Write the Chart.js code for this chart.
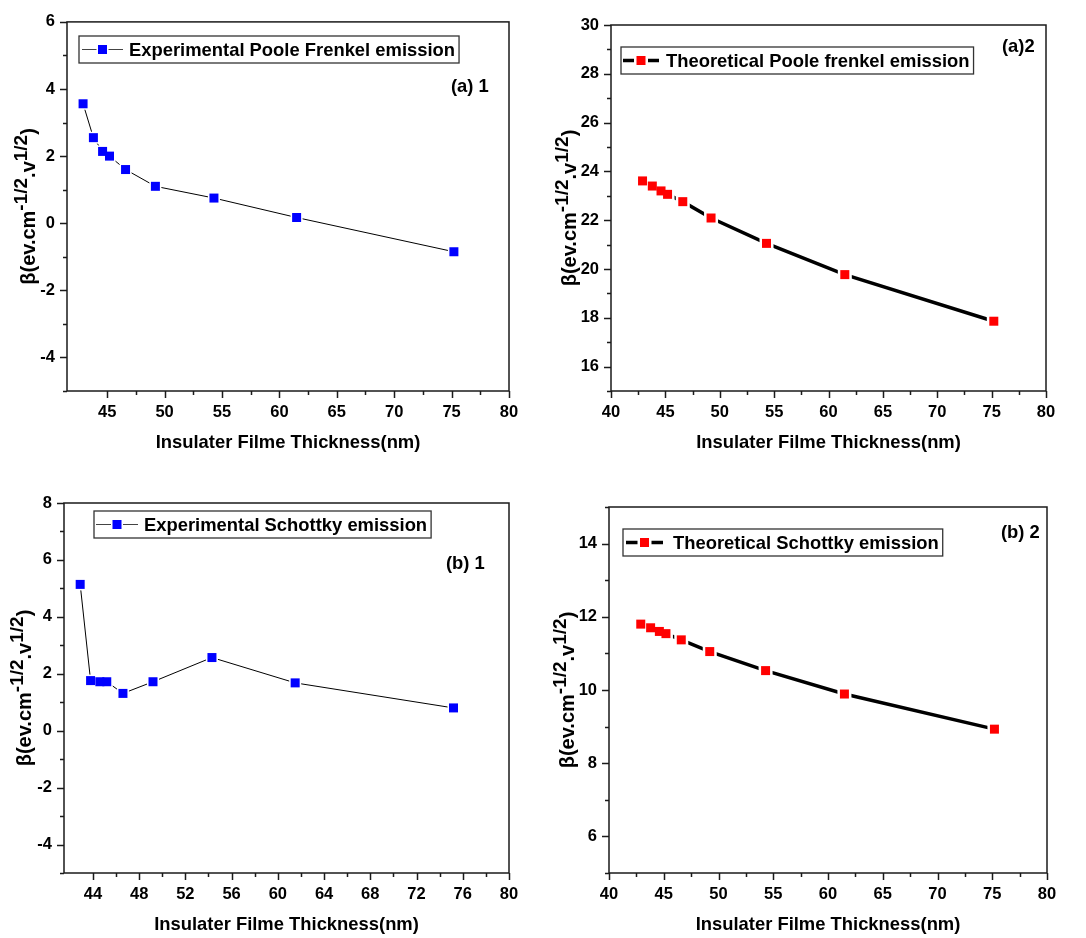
<!DOCTYPE html>
<html>
<head>
<meta charset="utf-8">
<script src="https://cdn.jsdelivr.net/npm/chart.js@4.4.1/dist/chart.umd.min.js"></script>
<style>
  body { margin: 0; background: #fff; }
  #wrap { position: relative; width: 1086px; height: 938px; }
  canvas { position: absolute; }
</style>
</head>
<body>
<div id="wrap">
  <canvas id="a1" width="543" height="460" style="left:0;top:0"></canvas>
  <canvas id="a2" width="543" height="460" style="left:543px;top:0"></canvas>
  <canvas id="b1" width="543" height="478" style="left:0;top:460px"></canvas>
  <canvas id="b2" width="543" height="478" style="left:543px;top:460px"></canvas>
</div>
<script>
// film thickness (nm), same for all four panels
const thickness = [42.9, 43.8, 44.6, 45.2, 46.6, 49.2, 54.3, 61.5, 75.2];

const expPooleFrenkel = [3.56, 2.55, 2.14, 2.0, 1.6, 1.1, 0.75, 0.17, -0.85];
const theoPooleFrenkel = [23.61, 23.40, 23.20, 23.06, 22.76, 22.09, 21.05, 19.77, 17.86];
const expSchottky = [5.14, 1.76, 1.72, 1.72, 1.31, 1.72, 2.57, 1.68, 0.80];
const theoSchottky = [11.80, 11.70, 11.60, 11.54, 11.37, 11.05, 10.53, 9.89, 8.93];

// tick labels
const xLabels5 = [40, 45, 50, 55, 60, 65, 70, 75, 80];
const xLabels4 = [44, 48, 52, 56, 60, 64, 68, 72, 76, 80];
const yLabelsA1 = [-4, -2, 0, 2, 4, 6];
const yLabelsA2 = [16, 18, 20, 22, 24, 26, 28, 30];
const yLabelsB1 = [-4, -2, 0, 2, 4, 6, 8];
const yLabelsB2 = [6, 8, 10, 12, 14];

const FONT = '"Liberation Sans", Arial, sans-serif';
Chart.defaults.font.family = FONT;
Chart.defaults.font.weight = 'bold';
Chart.defaults.color = '#000';

function hasLabel(list, v) {
  return list.some(l => Math.abs(l - v) < 1e-6);
}
function onStep(v, step) {
  return Math.abs(v / step - Math.round(v / step)) < 1e-6;
}

// origin-style frame, ticks, titles, legend and panel tag
const originFrame = {
  id: 'originFrame',
  afterDraw(chart, args, o) {
    const { ctx, chartArea: a, scales: { x, y } } = chart;
    ctx.save();
    ctx.strokeStyle = '#1a1a1a';
    ctx.lineWidth = 1.5;
    ctx.beginPath();
    x.ticks.forEach(t => {
      if (!onStep(t.value, o.xStep)) return;
      const px = Math.round(x.getPixelForValue(t.value)) + 0.5;
      const len = t.label ? 7 : 4;
      ctx.moveTo(px, a.bottom);
      ctx.lineTo(px, a.bottom + len);
    });
    y.ticks.forEach(t => {
      if (!onStep(t.value, o.yStep)) return;
      const py = Math.round(y.getPixelForValue(t.value)) + 0.5;
      const len = t.label ? 7 : 4;
      ctx.moveTo(a.left, py);
      ctx.lineTo(a.left - len, py);
    });
    ctx.stroke();
    ctx.strokeRect(a.left, a.top, a.right - a.left, a.bottom - a.top);

    ctx.fillStyle = '#000';
    // x title
    ctx.font = 'bold 18.4px ' + FONT;
    ctx.textAlign = 'center';
    ctx.textBaseline = 'alphabetic';
    ctx.fillText('Insulater Filme Thickness(nm)', (a.left + a.right) / 2, o.xTitleY);

    // y title with superscripts
    const parts = [
      ['β(ev.cm', false], ['-1/2', true], ['.v', false], ['1/2', true], [')', false]
    ];
    const mainF = 'bold 20px ' + FONT, supF = 'bold 19px ' + FONT;
    let total = 0;
    parts.forEach(p => { ctx.font = p[1] ? supF : mainF; total += ctx.measureText(p[0]).width; });
    ctx.save();
    ctx.translate(o.yTitleX, (a.top + a.bottom) / 2);
    ctx.rotate(-Math.PI / 2);
    ctx.textAlign = 'left';
    let cx = -total / 2;
    parts.forEach(p => {
      ctx.font = p[1] ? supF : mainF;
      ctx.fillText(p[0], cx, p[1] ? -8 : 0);
      cx += ctx.measureText(p[0]).width;
    });
    ctx.restore();

    // panel tag
    ctx.font = 'bold 18.4px ' + FONT;
    ctx.textAlign = 'left';
    ctx.textBaseline = 'middle';
    ctx.fillText(o.tag, o.tagX, o.tagY);

    // legend
    const lg = o.legend;
    const ds = chart.data.datasets;
    const label = ds[0].label;
    const tw = ctx.measureText(label).width;
    const boxW = lg.textX + tw + 4 - lg.left;
    ctx.lineWidth = 1.3;
    ctx.strokeStyle = '#333';
    ctx.strokeRect(lg.left, lg.top, boxW, lg.height);
    const cy = lg.top + lg.height / 2;
    const mx = (lg.x0 + lg.x1) / 2;
    ctx.strokeStyle = o.legendLineColor;
    ctx.lineWidth = ds[2].borderWidth;
    ctx.beginPath();
    ctx.moveTo(lg.x0, cy);
    ctx.lineTo(mx - 4.5 - o.gap, cy);
    ctx.moveTo(mx + 4.5 + o.gap, cy);
    ctx.lineTo(lg.x1, cy);
    ctx.stroke();
    ctx.fillStyle = ds[0].pointBackgroundColor;
    ctx.fillRect(mx - 4.5, cy - 4.5, 9, 9);
    ctx.fillStyle = '#000';
    ctx.fillText(label, lg.textX, cy + 1);
    ctx.restore();
  }
};

function makePanel(id, cfg) {
  const canvas = document.getElementById(id);
  const W = canvas.width, H = canvas.height;
  const a = cfg.area;
  const pts = thickness.map((x, i) => ({ x: x, y: cfg.values[i] }));
  const markR = 9 / (2 * Math.SQRT1_2);
  const haloR = (9 + 2 * cfg.gap) / (2 * Math.SQRT1_2);
  return new Chart(canvas.getContext('2d'), {
    type: 'line',
    data: {
      datasets: [
        {
          label: cfg.label, data: pts, showLine: false, pointStyle: 'rect',
          pointRadius: markR, pointBackgroundColor: cfg.color, pointBorderWidth: 0, order: 0
        },
        {
          data: pts, showLine: false, pointStyle: 'rect',
          pointRadius: haloR, pointBackgroundColor: '#fff', pointBorderWidth: 0, order: 1
        },
        {
          data: pts, borderColor: '#000', borderWidth: cfg.lineWidth, pointRadius: 0,
          tension: 0, order: 2
        }
      ]
    },
    options: {
      responsive: false,
      animation: false,
      events: [],
      layout: { padding: { left: 0, top: a.top, right: W - a.right, bottom: 0 } },
      scales: {
        x: {
          type: 'linear', min: cfg.xMin, max: 80,
          grid: { display: false, drawTicks: false },
          border: { display: false },
          afterFit: s => { s.height = H - a.bottom; },
          ticks: {
            stepSize: cfg.xStep, autoSkip: false, maxRotation: 0, padding: 12,
            font: { size: 16.5, weight: 'bold' },
            callback: v => hasLabel(cfg.xLabels, v) ? String(v) : ''
          }
        },
        y: {
          min: cfg.yMin, max: cfg.yMax,
          grid: { display: false, drawTicks: false },
          border: { display: false },
          afterFit: s => { s.width = a.left; },
          ticks: {
            stepSize: 1, autoSkip: false, padding: 12,
            font: { size: 16.5, weight: 'bold' },
            callback: v => hasLabel(cfg.yLabels, v) ? String(v) : ''
          }
        }
      },
      plugins: {
        legend: { display: false },
        tooltip: { enabled: false },
        originFrame: {
          xStep: cfg.xStep, yStep: 1, tag: cfg.tag, tagX: cfg.tagX, tagY: cfg.tagY,
          xTitleY: cfg.xTitleY, yTitleX: cfg.yTitleX, legend: cfg.legend,
          gap: cfg.gap, legendLineColor: cfg.legendLineColor
        }
      }
    },
    plugins: [originFrame]
  });
}

makePanel('a1', {
  values: expPooleFrenkel, label: 'Experimental Poole Frenkel emission', color: '#0000ff',
  lineWidth: 1, gap: 1.5, legendLineColor: '#444',
  area: { left: 67, right: 509, top: 19, bottom: 391 },
  xMin: 41.5, xStep: 2.5, xLabels: xLabels5, yMin: -5, yMax: 6, yLabels: yLabelsA1,
  tag: '(a) 1', tagX: 451, tagY: 87, xTitleY: 448, yTitleX: 35,
  legend: { left: 79, top: 36, height: 27, x0: 82, x1: 123, textX: 129 }
});

makePanel('a2', {
  values: theoPooleFrenkel, label: 'Theoretical Poole frenkel emission', color: '#ff0000',
  lineWidth: 3.5, gap: 2.5, legendLineColor: '#000',
  area: { left: 68, right: 503, top: 25, bottom: 391 },
  xMin: 40, xStep: 2.5, xLabels: xLabels5, yMin: 15, yMax: 30, yLabels: yLabelsA2,
  tag: '(a)2', tagX: 459, tagY: 47, xTitleY: 448, yTitleX: 33,
  legend: { left: 78, top: 47, height: 27, x0: 80, x1: 116, textX: 123 }
});

makePanel('b1', {
  values: expSchottky, label: 'Experimental Schottky emission', color: '#0000ff',
  lineWidth: 1, gap: 1.5, legendLineColor: '#444',
  area: { left: 64, right: 509, top: 43, bottom: 413 },
  xMin: 41.5, xStep: 2, xLabels: xLabels4, yMin: -5, yMax: 8, yLabels: yLabelsB1,
  tag: '(b) 1', tagX: 446, tagY: 104, xTitleY: 470, yTitleX: 31,
  legend: { left: 94, top: 51, height: 27, x0: 96, x1: 138, textX: 144 }
});

makePanel('b2', {
  values: theoSchottky, label: 'Theoretical Schottky emission', color: '#ff0000',
  lineWidth: 3.5, gap: 2.5, legendLineColor: '#000',
  area: { left: 66, right: 504, top: 47, bottom: 413 },
  xMin: 40, xStep: 2.5, xLabels: xLabels5, yMin: 5, yMax: 15, yLabels: yLabelsB2,
  tag: '(b) 2', tagX: 458, tagY: 73, xTitleY: 470, yTitleX: 31,
  legend: { left: 80, top: 69, height: 27, x0: 83, x1: 120, textX: 130 }
});
</script>
</body>
</html>
